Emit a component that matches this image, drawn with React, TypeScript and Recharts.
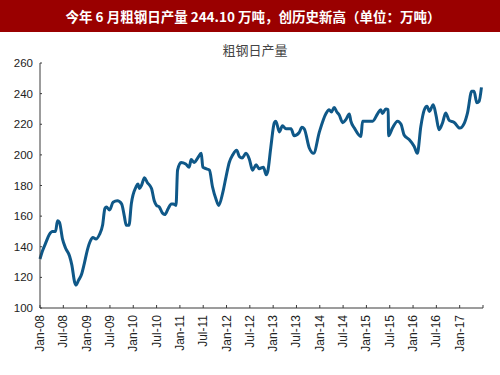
import React from 'react';
import { LineChart, Line, XAxis, YAxis } from 'recharts';

// months since Jan-08 (fractional where the series wiggles within a month)
const months = [
  0, 0.6, 1.4, 2.4, 3.2, 4.0, 4.5, 5.0, 5.8, 6.6, 7.6, 8.2, 8.9, 9.3, 9.9, 10.7, 11.4,
  12.2, 13.0, 13.6, 14.4, 15.3, 16.1, 16.7, 17.1, 17.9, 18.8, 19.9, 21.0, 21.7, 22.2, 22.9,
  23.5, 24.7, 25.2, 25.6, 26.1, 26.9, 27.6, 28.7, 29.4, 30.0, 30.7, 31.5, 32.1, 33.0, 33.8,
  34.3, 35.0, 35.4, 36.3, 37.5, 38.4, 38.9, 39.7, 40.6, 41.5, 41.9, 42.7, 43.6, 44.4, 45.3,
  46.0, 47.0, 47.9, 48.7, 49.6, 50.6, 51.3, 52.0, 53.0, 53.9, 54.7, 55.6, 56.4, 57.5, 58.2,
  58.6, 59.4, 60.3, 60.7, 61.6, 62.4, 63.3, 64.6, 65.4, 66.7, 67.4, 68.0, 69.3, 70.4, 71.9,
  73.6, 74.4, 75.0, 75.7, 76.4, 77.0, 77.9, 78.7, 79.6, 80.0, 80.9, 82.6, 83.0, 85.6, 86.9,
  87.7, 88.1, 89.0, 89.6, 89.7, 90.7, 92.0, 92.9, 93.7, 95.0, 96.3, 97.1, 98.0, 98.9, 99.6,
  100.2, 101.2, 101.9, 102.7, 103.6, 104.4, 105.3, 106.6, 108.0, 109.2, 110.0, 111.1, 111.7,
  112.4, 113.0, 113.6,
];

// 粗钢日产量 (万吨)
const output = [
  132, 137, 142, 148, 150, 150, 157, 156, 145, 139, 134, 128, 117, 115, 118, 122, 129,
  138, 144, 146, 145, 148, 154, 165, 166, 164, 169, 170, 168, 160, 154, 154,
  168, 179, 181, 178, 180, 185, 182, 178, 170, 167, 166, 162, 161, 165, 168,
  168, 167, 190, 195, 194, 192, 197, 195, 198, 201, 192, 191, 190, 179, 171,
  167, 175, 186, 195, 200, 203, 199, 198, 201, 197, 190, 193.5, 191, 192, 187,
  189, 205, 221, 222, 215, 219, 217, 217, 212.5, 214.6, 218, 217, 204.5, 201, 215,
  227, 229.5, 228, 231, 228, 226, 221, 223, 226.7, 222, 217.5, 212, 222, 222, 227,
  229.5, 227, 230, 229.5, 212.5, 217.5, 222, 220, 213, 210, 205.5, 201, 218.6, 229.5, 231.7,
  228.4, 232.8, 226, 216.4, 221, 227.3, 222.5, 221.2, 217.5, 220.8, 227.3, 241.5, 241.5,
  234, 235, 244.1,
];

const tickMonths = [0, 6, 12, 18, 24, 30, 36, 42, 48, 54, 60, 66, 72, 78, 84, 90, 96, 102, 108, 114];
const tickLabels = [
  'Jan-08', 'Jul-08', 'Jan-09', 'Jul-09', 'Jan-10', 'Jul-10', 'Jan-11', 'Jul-11', 'Jan-12', 'Jul-12',
  'Jan-13', 'Jul-13', 'Jan-14', 'Jul-14', 'Jan-15', 'Jul-15', 'Jan-16', 'Jul-16', 'Jan-17', '',
];
const yTicks = [100, 120, 140, 160, 180, 200, 220, 240, 260];

const data = months.map((m, i) => ({ m, v: output[i] }));

const AXIS = '#3a3a3a';

const XTick = ({ x, y, payload }: any) => {
  const label = tickLabels[tickMonths.indexOf(payload.value)] || '';
  return (
    <g>
      <line x1={x} y1={y} x2={x} y2={y - 3} stroke={AXIS} />
      {label && (
        <text
          x={x}
          y={y}
          transform={`rotate(-90 ${x} ${y})`}
          textAnchor="end"
          dx={-7}
          dy={4}
          fontSize={12}
          fontFamily="'Liberation Sans', Arial, sans-serif"
          fill="#222"
        >
          {label}
        </text>
      )}
    </g>
  );
};

const YTick = ({ x, y, payload }: any) => (
  <g>
    <line x1={x} y1={y} x2={x + 2} y2={y} stroke={AXIS} />
    <text
      x={x - 7}
      y={y}
      dy={4}
      textAnchor="end"
      fontSize={11.5}
      fontFamily="'Liberation Sans Narrow', 'Liberation Sans', Arial, sans-serif"
      fill="#222"
    >
      {payload.value}
    </text>
  </g>
);

export default function App() {
  return (
    <div style={{ position: 'absolute', left: 0, top: 0, width: 500, height: 375, background: '#fff' }}>
      <div
        style={{
          position: 'absolute', left: 0, top: 0, width: 500, height: 32, background: '#9a0000',
          color: '#fff', fontWeight: 'bold', fontSize: 13.5, lineHeight: '32px', textAlign: 'center',
          fontFamily: "'Noto Sans CJK SC', sans-serif", paddingLeft: 6, boxSizing: 'border-box',
        }}
      >
        今年 6 月粗钢日产量 244.10 万吨，创历史新高（单位：万吨）
      </div>
      <div
        style={{
          position: 'absolute', left: 0, top: 40, width: 510, textAlign: 'center', fontSize: 13,
          color: '#444', fontFamily: "'Noto Sans CJK SC', sans-serif",
        }}
      >
        粗钢日产量
      </div>
      <div style={{ position: 'absolute', left: 0, top: 0 }}>
        <LineChart width={500} height={375} data={data} margin={{ top: 63, right: 17, bottom: 7, left: 0 }}>
          <XAxis
            dataKey="m"
            type="number"
            domain={[0, 114]}
            ticks={tickMonths}
            interval={0}
            height={60}
            tickSize={0}
            tickMargin={0}
            tickLine={false}
            axisLine={{ stroke: AXIS }}
            tick={<XTick />}
          />
          <YAxis
            type="number"
            domain={[100, 260]}
            ticks={yTicks}
            interval={0}
            width={40}
            tickSize={0}
            tickMargin={0}
            tickLine={false}
            axisLine={{ stroke: AXIS }}
            tick={<YTick />}
          />
          <Line
            type="monotone"
            dataKey="v"
            stroke="#0f5888"
            strokeWidth={3}
            dot={false}
            isAnimationActive={false}
          />
        </LineChart>
      </div>
    </div>
  );
}
